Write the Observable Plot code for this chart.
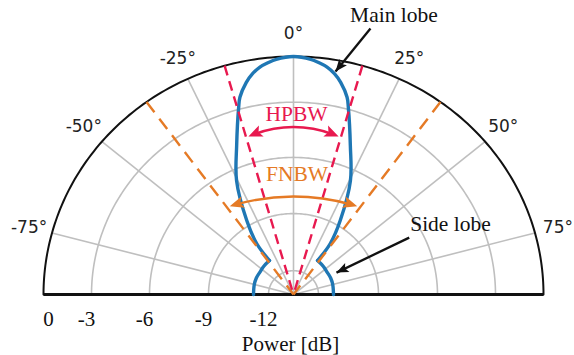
<!DOCTYPE html>
<html>
<head>
<meta charset="utf-8">
<script src="https://cdn.jsdelivr.net/npm/d3@7"></script>
<script src="https://cdn.jsdelivr.net/npm/@observablehq/plot@0.6"></script>
<style>
  html, body { margin: 0; padding: 0; background: #fff; }
  #chart svg { display: block; }
</style>
</head>
<body>
<div id="chart"></div>
<script>
// ---------------- data ----------------
const gridDb = [-3, -6, -9, -12];
const tickDb = [0, -3, -6, -9, -12];
const tickLabels = ["0", "-3", "-6", "-9", "-12"];
const spokeAngles = [-75, -50, -25, 0, 25, 50, 75];
const angleLabels = ["-75°", "-50°", "-25°", "0°", "25°", "50°", "75°"];

// main lobe (angle in degrees, power in dB)
const mainLobeAngle = [-34, -34.5, -31, -25.5, -20, -15.6, -14.5, -12, -10, -8, -6, -4, 0, 4, 6, 8, 10, 12, 14.5, 15.6, 20, 25.5, 31, 34.5, 34];
const mainLobeDb    = [-11.1, -10.0, -8.7, -6.6, -4.85, -2.88, -2.25, -1.4, -0.9, -0.55, -0.33, -0.15, 0, -0.15, -0.33, -0.55, -0.9, -1.4, -2.25, -2.88, -4.85, -6.6, -8.7, -10.0, -11.1];
// side lobes
const sideLobeAngle = [34, 45, 55, 65, 75, 90];
const sideLobeDb    = [-11.1, -11.15, -11.2, -11.2, -11.22, -11.25];

const hpbwHalf = 16;   // half-power beamwidth half angle
const fnbwHalf = 36;   // first-null beamwidth half angle

// ---------------- geometry helpers ----------------
const R = d3.scaleLinear().domain([-13.25, -12, -9, -6, -3, 0]).range([0, 0.1, 0.34, 0.576, 0.808, 1]);
const rad = a => a * Math.PI / 180;
const X = (a, db) => R(db) * Math.sin(rad(a));
const Y = (a, db) => R(db) * Math.cos(rad(a));
const Xr = (a, r) => r * Math.sin(rad(a));
const Yr = (a, r) => r * Math.cos(rad(a));

const xDomain = [-1, 1], xRange = [43, 543];
const yDomain = [0, 1], yRange = [294, 56];
const kx = (xRange[1] - xRange[0]) / (xDomain[1] - xDomain[0]);
const ky = (yRange[0] - yRange[1]) / (yDomain[1] - yDomain[0]);

const thetas = d3.range(-90, 90.001, 1);
const circles = gridDb.flatMap(db => thetas.map(t => ({db, x: X(t, db), y: Y(t, db)})));
const outer = thetas.map(t => ({x: X(t, 0), y: Y(t, 0)}));
const spokes = spokeAngles.map(a => ({x1: 0, y1: 0, x2: X(a, 0), y2: Y(a, 0)}));

const mainLobe = mainLobeAngle.map((a, i) => ({x: X(a, mainLobeDb[i]), y: Y(a, mainLobeDb[i])}));
const sideR = sideLobeAngle.map((a, i) => ({x: X(a, sideLobeDb[i]), y: Y(a, sideLobeDb[i])}));
const sideL = sideLobeAngle.map((a, i) => ({x: X(-a, sideLobeDb[i]), y: Y(-a, sideLobeDb[i])}));

const dashLines = (half) => [-half, half].map(a => ({x1: X(a, 0), y1: Y(a, 0), x2: 0, y2: 0}));

// arrowhead symbol with its tip at the origin, pointing up
const headSym = (L, W, N) => ({
  draw(ctx) { ctx.moveTo(0, 0); ctx.lineTo(-W / 2, L); ctx.lineTo(0, L - N); ctx.lineTo(W / 2, L); ctx.closePath(); }
});

// double-headed curved arrow between +/- angle at given dB
function arcArrow(angle, db, bend) {
  const a = {x: X(-angle, db), y: Y(-angle, db)};
  const b = {x: X(angle, db), y: Y(angle, db)};
  const alpha = Math.atan2(-(b.y - a.y) * ky, (b.x - a.x) * kx) * 180 / Math.PI;
  return {
    arc: [{x1: a.x, y1: a.y, x2: b.x, y2: b.y}],
    heads: [
      {x: a.x, y: a.y, rotate: alpha - bend + 180 + 90},
      {x: b.x, y: b.y, rotate: alpha + bend + 90}
    ]
  };
}
function straightArrow(x1, y1, x2, y2) {
  const ang = Math.atan2(-(y2 - y1) * ky, (x2 - x1) * kx) * 180 / Math.PI;
  return {line: [{x1, y1, x2, y2}], head: [{x: x2, y: y2, rotate: ang + 90}]};
}

const hpbw = arcArrow(15.2, -4.55, 23);
const fnbw = arcArrow(34.5, -7.6, 17);
const mainArrow = straightArrow(0.308, 1.118, 0.168, 0.937);
const sideArrow = straightArrow(0.463, 0.239, 0.172, 0.092);

const RED = "#e8194f", ORANGE = "#e57a25", BLUE = "#1f77b4", GRID = "#bfbfbf";
const SERIF = "Liberation Serif, Times New Roman, serif";
const SANS = "DejaVu Sans, sans-serif";

const chart = Plot.plot({
  width: 574,
  height: 355,
  margin: 0,
  style: {background: "#fff", overflow: "visible"},
  x: {domain: xDomain, range: xRange, axis: null},
  y: {domain: yDomain, range: yRange, axis: null},
  marks: [
    Plot.line(circles, {x: "x", y: "y", z: "db", stroke: GRID, strokeWidth: 1.6}),
    Plot.link(spokes, {x1: "x1", y1: "y1", x2: "x2", y2: "y2", stroke: GRID, strokeWidth: 1.6}),
    Plot.line(outer, {x: "x", y: "y", stroke: "#111", strokeWidth: 2}),
    Plot.link([{x1: -1, x2: 1, y: 0}], {x1: "x1", x2: "x2", y1: "y", y2: "y", stroke: "#111", strokeWidth: 3}),
    // lobes
    Plot.line(mainLobe, {x: "x", y: "y", curve: "catmull-rom", stroke: BLUE, strokeWidth: 3.4, strokeLinecap: "round"}),
    Plot.line(sideR, {x: "x", y: "y", curve: "catmull-rom", stroke: BLUE, strokeWidth: 3.4}),
    Plot.line(sideL, {x: "x", y: "y", curve: "catmull-rom", stroke: BLUE, strokeWidth: 3.4}),
    // beamwidth lines
    Plot.link(dashLines(fnbwHalf), {x1: "x1", y1: "y1", x2: "x2", y2: "y2", stroke: ORANGE, strokeWidth: 2.4, strokeDasharray: "13,8"}),
    Plot.link(dashLines(hpbwHalf), {x1: "x1", y1: "y1", x2: "x2", y2: "y2", stroke: RED, strokeWidth: 2.4, strokeDasharray: "10,6"}),
    // HPBW / FNBW arrows
    Plot.arrow(hpbw.arc, {x1: "x1", y1: "y1", x2: "x2", y2: "y2", bend: 23, headLength: 0, stroke: RED, strokeWidth: 2.4, insetStart: 6, insetEnd: 6}),
    Plot.dot(hpbw.heads, {x: "x", y: "y", rotate: "rotate", symbol: headSym(14, 12, 3), fill: RED, stroke: "none"}),
    Plot.arrow(fnbw.arc, {x1: "x1", y1: "y1", x2: "x2", y2: "y2", bend: 17, headLength: 0, stroke: ORANGE, strokeWidth: 2.4, insetStart: 6, insetEnd: 6}),
    Plot.dot(fnbw.heads, {x: "x", y: "y", rotate: "rotate", symbol: headSym(14, 12, 3), fill: ORANGE, stroke: "none"}),
    Plot.text(["HPBW"], {x: () => 0.012, y: () => 0.759, text: d => d, fontFamily: SERIF, fontSize: 21.5, fill: RED}),
    Plot.text(["FNBW"], {x: () => 0.014, y: () => 0.507, text: d => d, fontFamily: SERIF, fontSize: 21.5, fill: ORANGE}),
    // black annotations
    Plot.link(mainArrow.line, {x1: "x1", y1: "y1", x2: "x2", y2: "y2", stroke: "#111", strokeWidth: 2.3}),
    Plot.dot(mainArrow.head, {x: "x", y: "y", rotate: "rotate", symbol: headSym(12, 10, 2.5), fill: "#111", stroke: "none"}),
    Plot.link(sideArrow.line, {x1: "x1", y1: "y1", x2: "x2", y2: "y2", stroke: "#111", strokeWidth: 2.3}),
    Plot.dot(sideArrow.head, {x: "x", y: "y", rotate: "rotate", symbol: headSym(12, 10, 2.5), fill: "#111", stroke: "none"}),
    Plot.text(["Main lobe"], {x: () => 0.402, y: () => 1.175, text: d => d, fontFamily: SERIF, fontSize: 21.5, fill: "#111"}),
    Plot.text(["Side lobe"], {x: () => 0.628, y: () => 0.297, text: d => d, fontFamily: SERIF, fontSize: 21.5, fill: "#111"}),
    // angle labels
    Plot.text(angleLabels, {x: (d, i) => Xr(spokeAngles[i], 1.095), y: (d, i) => Yr(spokeAngles[i], 1.095), text: d => d, fontFamily: SANS, fontSize: 17, fill: "#222"}),
    // radial tick labels
    Plot.text(tickLabels.slice(0, 1), {x: (d, i) => -R(tickDb[i]), y: () => -0.102, dx: 5, text: d => d, fontFamily: SERIF, fontSize: 21, fill: "#111"}),
    Plot.text(tickLabels.slice(1), {x: (d, i) => -R(tickDb[i + 1]), y: () => -0.102, dx: -5, text: d => d, fontFamily: SERIF, fontSize: 21, fill: "#111"}),
    Plot.text(["Power [dB]"], {x: () => -0.012, y: () => -0.207, text: d => d, fontFamily: SERIF, fontSize: 21, fill: "#111"})
  ]
});
document.getElementById("chart").appendChild(chart);
</script>
</body>
</html>
